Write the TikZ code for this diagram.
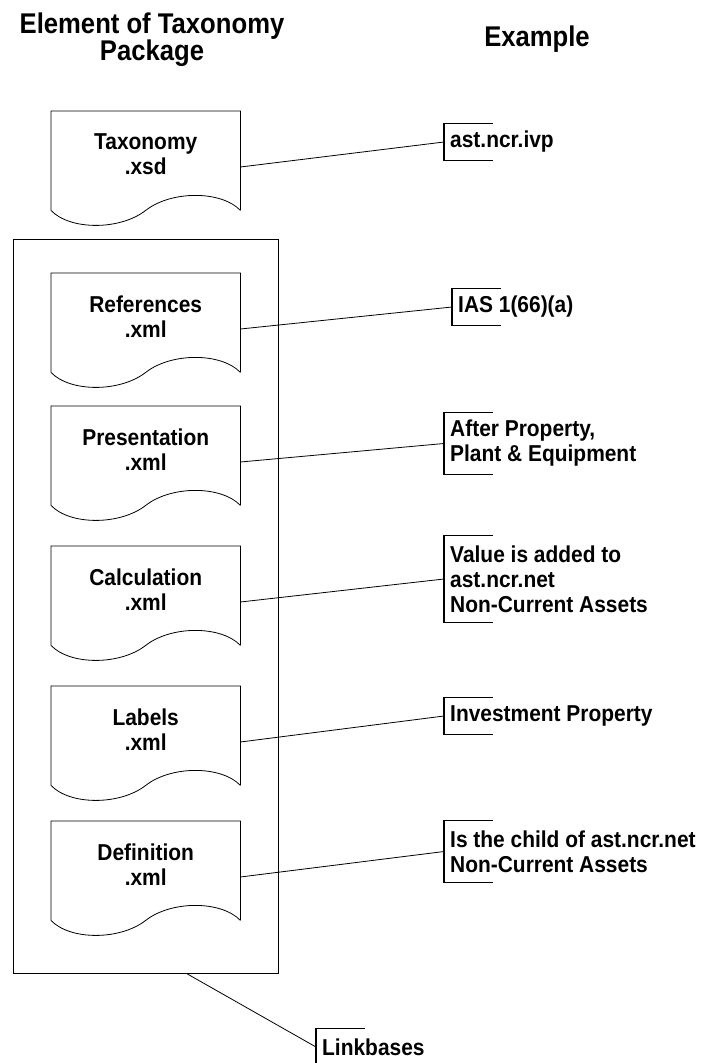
\documentclass[tikz,border=0pt]{standalone}
\usepackage{fontspec}
\setmainfont{Liberation Sans}
\newfontfamily\labfont[FakeStretch=0.91]{Liberation Sans}
\newfontfamily\ttlfont[FakeStretch=0.9]{Liberation Sans}
\usetikzlibrary{calc}
\newcommand\docshape[4]{%
  \node[docframe, anchor=north west] (#1) at (51,#2) {};
  \draw[docline] (#1.south east) -- (#1.north east) -- (#1.north west) -- (#1.south west)
    .. controls ($(#1.south west)+(19,20)$) and ($(#1.south west)+(69,20)$) .. (#1.south)
    .. controls ($(#1.south)+(25.5,-20)$) and ($(#1.south)+(75.5,-20)$) .. (#1.south east);
  \node[doctext] (#1t) at ($(#1.north)+(0,22.3)$) {#3\\#4};
  \coordinate (#1c) at ($(#1.north east)+(0,56)$);
}
\newcommand\notebox[4]{%
  \node[notetext, minimum height=#4] (#1) at #2 {#3};
  \draw[bracketline] ($(#1.north west)+(49,0)$) -- (#1.north west) -- (#1.south west) -- ($(#1.south west)+(49,0)$);
}
\begin{document}
\begin{tikzpicture}[x=1pt,y=-1pt,
  docline/.style={draw=black, line width=0.8pt},
  conn/.style={draw=black, line width=0.8pt},
  bracketline/.style={draw=black, line width=1.1pt},
  docframe/.style={rectangle, draw=none, inner sep=0pt, minimum width=189pt, minimum height=99pt},
  doctext/.style={font=\labfont\bfseries\fontsize{23}{25}\selectfont, align=center, inner sep=0pt, anchor=north},
  notetext/.style={font=\labfont\bfseries\fontsize{23}{25}\selectfont, align=left, inner xsep=6pt, inner ysep=0pt, anchor=west},
  titletext/.style={font=\ttlfont\bfseries\fontsize{28.5}{27}\selectfont, align=center, inner sep=0pt}]
\useasboundingbox (0,0) rectangle (704,1063);

% titles
\node[titletext, anchor=north] (t1) at (152,12.5) {Element of Taxonomy\\Package};
\node[titletext, anchor=base] (t2) at (537,46.5) {Example};

% linkbase frame
\node[rectangle, draw=black, line width=0.8pt, inner sep=0pt, minimum width=265pt, minimum height=734pt, anchor=north west] (frame) at (13,239) {};
\coordinate (fa) at ($(frame.south west)!0.655!(frame.south east)$);

% documents
\docshape{d0}{111}{Taxonomy}{.xsd}
\docshape{d1}{273}{References}{.xml}
\docshape{d2}{406}{Presentation}{.xml}
\docshape{d3}{546}{Calculation}{.xml}
\docshape{d4}{686}{Labels}{.xml}
\docshape{d5}{821}{Definition}{.xml}

% notes
\notebox{n0}{(444,142)}{ast.ncr.ivp}{36pt}
\notebox{n1}{(452,307)}{IAS 1(66)(a)}{36pt}
\notebox{n2}{(444,443.5)}{After Property,\\Plant \& Equipment}{61pt}
\notebox{n3}{(444,579)}{Value is added to\\ast.ncr.net\\Non-Current Assets}{86pt}
\notebox{n4}{(444,716)}{Investment Property}{36pt}
\notebox{n5}{(444,851.5)}{Is the child of ast.ncr.net\\Non-Current Assets}{61pt}
\notebox{n6}{(316,1047)}{Linkbases}{36pt}

% connectors
\draw[conn] (d0c) -- (n0.west);
\draw[conn] (d1c) -- (n1.west);
\draw[conn] (d2c) -- (n2.west);
\draw[conn] (d3c) -- (n3.west);
\draw[conn] (d4c) -- (n4.west);
\draw[conn] (d5c) -- (n5.west);
\draw[conn] (fa) -- (n6.west);
\end{tikzpicture}
\end{document}
